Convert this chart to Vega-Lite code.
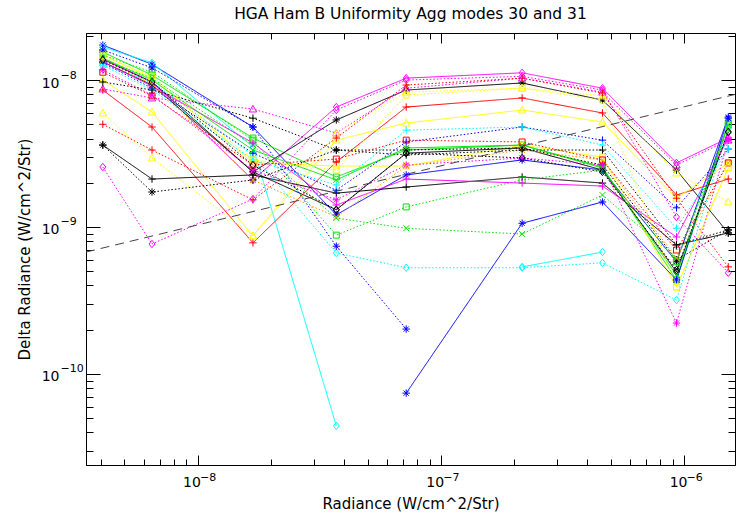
{
"$schema": "https://vega.github.io/schema/vega-lite/v6.json",
"width": 649, "height": 432,
"autosize": {"type": "none"},
"padding": {"left": 86, "top": 33, "right": 3, "bottom": 52},
"background": "white",
"config": {"view": {"stroke": "black", "strokeWidth": 1}, "font": "DejaVu Sans", "axis": {"grid": false, "domainColor": "black", "tickColor": "black", "labelColor": "black", "titleColor": "black", "labelFlush": false, "labelOverlap": false, "labelFont": "DejaVu Sans", "titleFont": "DejaVu Sans"}},
"title": {"text": "HGA Ham B Uniformity Agg modes 30 and 31", "fontSize": 15.5, "fontWeight": "normal", "font": "DejaVu Sans", "color": "black", "offset": 10},
"datasets": {
"ref": [{"x": 3.48e-9, "y": 6.75e-10}, {"x": 1.62e-6, "y": 7.98e-9}],
"pts": [
{"id":"A","c":"blue","m":"30","s":"ast","x":4.08e-9,"y":1.73e-8},{"id":"A","c":"blue","m":"30","s":"ast","x":6.5e-9,"y":1.28e-8},{"id":"A","c":"blue","m":"30","s":"ast","x":1.69e-8,"y":4.79e-9},{"id":"A","c":"blue","m":"30","s":"ast","x":3.72e-8,"y":1.21e-9},{"id":"A","c":"blue","m":"30","s":"ast","x":7.21e-8,"y":2.26e-9},{"id":"A","c":"blue","m":"30","s":"ast","x":2.16e-7,"y":2.86e-9},{"id":"A","c":"blue","m":"30","s":"ast","x":4.62e-7,"y":2.44e-9},{"id":"A","c":"blue","m":"30","s":"ast","x":9.31e-7,"y":5.8e-10},{"id":"A","c":"blue","m":"30","s":"ast","x":1.52e-6,"y":5.6e-9},
{"id":"B","c":"cyan","m":"30","s":"dia","x":4.08e-9,"y":1.68e-8},{"id":"B","c":"cyan","m":"30","s":"dia","x":6.5e-9,"y":1.31e-8},{"id":"B","c":"cyan","m":"30","s":"dia","x":1.69e-8,"y":3.5e-9},{"id":"B","c":"cyan","m":"30","s":"dia","x":3.72e-8,"y":4.43e-11},
{"id":"C","c":"green","m":"30","s":"sq","x":4.08e-9,"y":1.55e-8},{"id":"C","c":"green","m":"30","s":"sq","x":6.5e-9,"y":1.08e-8},{"id":"C","c":"green","m":"30","s":"sq","x":1.69e-8,"y":4.03e-9},{"id":"C","c":"green","m":"30","s":"sq","x":3.72e-8,"y":2.19e-9},{"id":"C","c":"green","m":"30","s":"sq","x":7.21e-8,"y":3.34e-9},{"id":"C","c":"green","m":"30","s":"sq","x":2.16e-7,"y":3.61e-9},{"id":"C","c":"green","m":"30","s":"sq","x":4.62e-7,"y":2.56e-9},{"id":"C","c":"green","m":"30","s":"sq","x":9.31e-7,"y":4.36e-10},{"id":"C","c":"green","m":"30","s":"sq","x":1.52e-6,"y":5.1e-9},
{"id":"D","c":"yellow","m":"30","s":"sq","x":4.08e-9,"y":1.48e-8},{"id":"D","c":"yellow","m":"30","s":"sq","x":6.5e-9,"y":1.03e-8},{"id":"D","c":"yellow","m":"30","s":"sq","x":1.69e-8,"y":2.73e-9},{"id":"D","c":"yellow","m":"30","s":"sq","x":3.72e-8,"y":2.6e-9},{"id":"D","c":"yellow","m":"30","s":"sq","x":7.21e-8,"y":2.6e-9},{"id":"D","c":"yellow","m":"30","s":"sq","x":2.16e-7,"y":3.61e-9},{"id":"D","c":"yellow","m":"30","s":"sq","x":4.62e-7,"y":2.99e-9},{"id":"D","c":"yellow","m":"30","s":"sq","x":9.31e-7,"y":3.9e-10},{"id":"D","c":"yellow","m":"30","s":"sq","x":1.52e-6,"y":2.52e-9},
{"id":"E","c":"black","m":"30","s":"dia","x":4.08e-9,"y":1.39e-8},{"id":"E","c":"black","m":"30","s":"dia","x":6.5e-9,"y":9.7e-9},{"id":"E","c":"black","m":"30","s":"dia","x":1.69e-8,"y":2.37e-9},{"id":"E","c":"black","m":"30","s":"dia","x":3.72e-8,"y":1.31e-9},{"id":"E","c":"black","m":"30","s":"dia","x":7.21e-8,"y":3.18e-9},{"id":"E","c":"black","m":"30","s":"dia","x":2.16e-7,"y":3.45e-9},{"id":"E","c":"black","m":"30","s":"dia","x":4.62e-7,"y":2.44e-9},{"id":"E","c":"black","m":"30","s":"dia","x":9.31e-7,"y":4.95e-10},{"id":"E","c":"black","m":"30","s":"dia","x":1.52e-6,"y":4.43e-9},
{"id":"F","c":"magenta","m":"30","s":"dia","x":4.08e-9,"y":1.39e-8},{"id":"F","c":"magenta","m":"30","s":"dia","x":6.5e-9,"y":9.7e-9},{"id":"F","c":"magenta","m":"30","s":"dia","x":1.69e-8,"y":2.09e-9},{"id":"F","c":"magenta","m":"30","s":"dia","x":3.72e-8,"y":6.55e-9},{"id":"F","c":"magenta","m":"30","s":"dia","x":7.21e-8,"y":1.03e-8},{"id":"F","c":"magenta","m":"30","s":"dia","x":2.16e-7,"y":1.12e-8},{"id":"F","c":"magenta","m":"30","s":"dia","x":4.62e-7,"y":8.8e-9},{"id":"F","c":"magenta","m":"30","s":"dia","x":9.31e-7,"y":2.73e-9},{"id":"F","c":"magenta","m":"30","s":"dia","x":1.52e-6,"y":4.03e-9},
{"id":"G","c":"black","m":"30","s":"ast","x":4.08e-9,"y":1.33e-8},{"id":"G","c":"black","m":"30","s":"ast","x":6.5e-9,"y":9.25e-9},{"id":"G","c":"black","m":"30","s":"ast","x":1.69e-8,"y":2.37e-9},{"id":"G","c":"black","m":"30","s":"ast","x":3.72e-8,"y":5.35e-9},{"id":"G","c":"black","m":"30","s":"ast","x":7.21e-8,"y":8.55e-9},{"id":"G","c":"black","m":"30","s":"ast","x":2.16e-7,"y":9.55e-9},{"id":"G","c":"black","m":"30","s":"ast","x":4.62e-7,"y":7.3e-9},{"id":"G","c":"black","m":"30","s":"ast","x":9.31e-7,"y":2.44e-9},{"id":"G","c":"black","m":"30","s":"ast","x":1.52e-6,"y":9.1e-10},
{"id":"H","c":"red","m":"30","s":"plus","x":4.08e-9,"y":8.55e-9},{"id":"H","c":"red","m":"30","s":"plus","x":6.5e-9,"y":4.79e-9},{"id":"H","c":"red","m":"30","s":"plus","x":1.69e-8,"y":7.8e-10},{"id":"H","c":"red","m":"30","s":"plus","x":3.72e-8,"y":2.77e-9},{"id":"H","c":"red","m":"30","s":"plus","x":7.21e-8,"y":6.55e-9},{"id":"H","c":"red","m":"30","s":"plus","x":2.16e-7,"y":7.55e-9},{"id":"H","c":"red","m":"30","s":"plus","x":4.62e-7,"y":5.97e-9},{"id":"H","c":"red","m":"30","s":"plus","x":9.31e-7,"y":1.65e-9},{"id":"H","c":"red","m":"30","s":"plus","x":1.52e-6,"y":2.12e-9},
{"id":"I","c":"yellow","m":"30","s":"tri","x":4.08e-9,"y":1.0e-8},{"id":"I","c":"yellow","m":"30","s":"tri","x":6.5e-9,"y":6.06e-9},{"id":"I","c":"yellow","m":"30","s":"tri","x":1.69e-8,"y":8.7e-10},{"id":"I","c":"yellow","m":"30","s":"tri","x":3.72e-8,"y":3.9e-9},{"id":"I","c":"yellow","m":"30","s":"tri","x":7.21e-8,"y":5.1e-9},{"id":"I","c":"yellow","m":"30","s":"tri","x":2.16e-7,"y":6.25e-9},{"id":"I","c":"yellow","m":"30","s":"tri","x":4.62e-7,"y":5.18e-9},{"id":"I","c":"yellow","m":"30","s":"tri","x":9.31e-7,"y":1.57e-9},{"id":"I","c":"yellow","m":"30","s":"tri","x":1.52e-6,"y":2.73e-9},
{"id":"J","c":"magenta","m":"31","s":"tri","x":4.08e-9,"y":8.7e-9},{"id":"J","c":"magenta","m":"31","s":"tri","x":6.5e-9,"y":7.55e-9},{"id":"J","c":"magenta","m":"31","s":"tri","x":1.69e-8,"y":6.35e-9},{"id":"J","c":"magenta","m":"31","s":"tri","x":3.72e-8,"y":4.36e-9},{"id":"J","c":"magenta","m":"31","s":"tri","x":7.21e-8,"y":8.8e-9},{"id":"J","c":"magenta","m":"31","s":"tri","x":2.16e-7,"y":1.03e-8},{"id":"J","c":"magenta","m":"31","s":"tri","x":4.62e-7,"y":8.28e-9},{"id":"J","c":"magenta","m":"31","s":"tri","x":9.31e-7,"y":2.64e-9},{"id":"J","c":"magenta","m":"31","s":"tri","x":1.52e-6,"y":3.9e-9},
{"id":"K","c":"yellow","m":"31","s":"tri","x":4.08e-9,"y":5.97e-9},{"id":"K","c":"yellow","m":"31","s":"tri","x":6.5e-9,"y":2.95e-9},{"id":"K","c":"yellow","m":"31","s":"tri","x":1.69e-8,"y":8.7e-10},{"id":"K","c":"yellow","m":"31","s":"tri","x":3.72e-8,"y":4.36e-9},{"id":"K","c":"yellow","m":"31","s":"tri","x":7.21e-8,"y":8.28e-9},{"id":"K","c":"yellow","m":"31","s":"tri","x":2.16e-7,"y":8.8e-9},{"id":"K","c":"yellow","m":"31","s":"tri","x":4.62e-7,"y":7.8e-9},{"id":"K","c":"yellow","m":"31","s":"tri","x":9.31e-7,"y":2.33e-9},{"id":"K","c":"yellow","m":"31","s":"tri","x":1.52e-6,"y":1.48e-9},
{"id":"L","c":"red","m":"31","s":"plus","x":4.08e-9,"y":5.0e-9},{"id":"L","c":"red","m":"31","s":"plus","x":6.5e-9,"y":3.34e-9},{"id":"L","c":"red","m":"31","s":"plus","x":1.69e-8,"y":1.53e-9},{"id":"L","c":"red","m":"31","s":"plus","x":3.72e-8,"y":4.03e-9},{"id":"L","c":"red","m":"31","s":"plus","x":7.21e-8,"y":9.25e-9},{"id":"L","c":"red","m":"31","s":"plus","x":2.16e-7,"y":1.03e-8},{"id":"L","c":"red","m":"31","s":"plus","x":4.62e-7,"y":8.15e-9},{"id":"L","c":"red","m":"31","s":"plus","x":9.31e-7,"y":1.57e-9},{"id":"L","c":"red","m":"31","s":"plus","x":1.52e-6,"y":5.35e-10},
{"id":"M","c":"black","m":"30","s":"plus","x":4.08e-9,"y":3.61e-9},{"id":"M","c":"black","m":"30","s":"plus","x":6.5e-9,"y":2.12e-9},{"id":"M","c":"black","m":"30","s":"plus","x":1.69e-8,"y":2.26e-9},{"id":"M","c":"black","m":"30","s":"plus","x":3.72e-8,"y":1.7e-9},{"id":"M","c":"black","m":"30","s":"plus","x":7.21e-8,"y":1.87e-9},{"id":"M","c":"black","m":"30","s":"plus","x":2.16e-7,"y":2.19e-9},{"id":"M","c":"black","m":"30","s":"plus","x":4.62e-7,"y":1.99e-9},{"id":"M","c":"black","m":"30","s":"plus","x":9.31e-7,"y":7.55e-10},{"id":"M","c":"black","m":"30","s":"plus","x":1.52e-6,"y":9.1e-10},
{"id":"N","c":"black","m":"31","s":"ast","x":4.08e-9,"y":3.61e-9},{"id":"N","c":"black","m":"31","s":"ast","x":6.5e-9,"y":1.73e-9},{"id":"N","c":"black","m":"31","s":"ast","x":1.69e-8,"y":2.09e-9},{"id":"N","c":"black","m":"31","s":"ast","x":3.72e-8,"y":3.34e-9},{"id":"N","c":"black","m":"31","s":"ast","x":7.21e-8,"y":3.34e-9},{"id":"N","c":"black","m":"31","s":"ast","x":2.16e-7,"y":3.45e-9},{"id":"N","c":"black","m":"31","s":"ast","x":4.62e-7,"y":2.64e-9},{"id":"N","c":"black","m":"31","s":"ast","x":9.31e-7,"y":5.97e-10},{"id":"N","c":"black","m":"31","s":"ast","x":1.52e-6,"y":9.55e-10},
{"id":"O","c":"magenta","m":"31","s":"dia","x":4.08e-9,"y":2.56e-9},{"id":"O","c":"magenta","m":"31","s":"dia","x":6.5e-9,"y":7.66e-10},{"id":"O","c":"magenta","m":"31","s":"dia","x":1.69e-8,"y":1.55e-9},{"id":"O","c":"magenta","m":"31","s":"dia","x":3.72e-8,"y":6.25e-9},{"id":"O","c":"magenta","m":"31","s":"dia","x":7.21e-8,"y":1.0e-8},{"id":"O","c":"magenta","m":"31","s":"dia","x":2.16e-7,"y":1.06e-8},{"id":"O","c":"magenta","m":"31","s":"dia","x":4.62e-7,"y":8.55e-9},{"id":"O","c":"magenta","m":"31","s":"dia","x":9.31e-7,"y":1.17e-9},{"id":"O","c":"magenta","m":"31","s":"dia","x":1.52e-6,"y":4.88e-10},
{"id":"P","c":"green","m":"31","s":"sq","x":4.08e-9,"y":1.48e-8},{"id":"P","c":"green","m":"31","s":"sq","x":6.5e-9,"y":1.13e-8},{"id":"P","c":"green","m":"31","s":"sq","x":1.69e-8,"y":3.9e-9},{"id":"P","c":"green","m":"31","s":"sq","x":3.72e-8,"y":8.8e-10},{"id":"P","c":"green","m":"31","s":"sq","x":7.21e-8,"y":1.37e-9},{"id":"P","c":"green","m":"31","s":"sq","x":2.16e-7,"y":2.09e-9},{"id":"P","c":"green","m":"31","s":"sq","x":4.62e-7,"y":2.44e-9},{"id":"P","c":"green","m":"31","s":"sq","x":9.31e-7,"y":5.8e-10},{"id":"P","c":"green","m":"31","s":"sq","x":1.52e-6,"y":4.95e-9},
{"id":"Q","c":"green","m":"31","s":"x","x":4.08e-9,"y":1.37e-8},{"id":"Q","c":"green","m":"31","s":"x","x":6.5e-9,"y":1.03e-8},{"id":"Q","c":"green","m":"31","s":"x","x":1.69e-8,"y":3.61e-9},{"id":"Q","c":"green","m":"31","s":"x","x":3.72e-8,"y":1.15e-9},{"id":"Q","c":"green","m":"31","s":"x","x":7.21e-8,"y":9.8e-10},{"id":"Q","c":"green","m":"31","s":"x","x":2.16e-7,"y":8.96e-10},{"id":"Q","c":"green","m":"31","s":"x","x":4.62e-7,"y":1.65e-9},{"id":"Q","c":"green","m":"31","s":"x","x":9.31e-7,"y":6.15e-10},{"id":"Q","c":"green","m":"31","s":"x","x":1.52e-6,"y":4.56e-9},
{"id":"R","c":"cyan","m":"31","s":"dia","x":4.08e-9,"y":1.26e-8},{"id":"R","c":"cyan","m":"31","s":"dia","x":6.5e-9,"y":9.7e-9},{"id":"R","c":"cyan","m":"31","s":"dia","x":1.69e-8,"y":3.09e-9},{"id":"R","c":"cyan","m":"31","s":"dia","x":3.72e-8,"y":6.65e-10},{"id":"R","c":"cyan","m":"31","s":"dia","x":7.21e-8,"y":5.28e-10},{"id":"R","c":"cyan","m":"31","s":"dia","x":2.16e-7,"y":5.28e-10},{"id":"R","c":"cyan","m":"31","s":"dia","x":4.62e-7,"y":5.7e-10},{"id":"R","c":"cyan","m":"31","s":"dia","x":9.31e-7,"y":3.18e-10},{"id":"R","c":"cyan","m":"31","s":"dia","x":1.52e-6,"y":4.7e-9},
{"id":"S","c":"cyan","m":"30","s":"dia","x":2.16e-7,"y":5.35e-10},{"id":"S","c":"cyan","m":"30","s":"dia","x":4.62e-7,"y":6.75e-10},
{"id":"T","c":"blue","m":"30","s":"ast","x":7.21e-8,"y":7.4e-11},{"id":"T","c":"blue","m":"30","s":"ast","x":2.16e-7,"y":1.06e-9},{"id":"T","c":"blue","m":"30","s":"ast","x":4.62e-7,"y":1.48e-9},{"id":"T","c":"blue","m":"30","s":"ast","x":9.31e-7,"y":4.36e-10},{"id":"T","c":"blue","m":"30","s":"ast","x":1.52e-6,"y":5.5e-9},
{"id":"U","c":"blue","m":"31","s":"ast","x":4.08e-9,"y":1.6e-8},{"id":"U","c":"blue","m":"31","s":"ast","x":6.5e-9,"y":1.21e-8},{"id":"U","c":"blue","m":"31","s":"ast","x":1.69e-8,"y":4.79e-9},{"id":"U","c":"blue","m":"31","s":"ast","x":3.72e-8,"y":7.4e-10},{"id":"U","c":"blue","m":"31","s":"ast","x":7.21e-8,"y":2.02e-10},
{"id":"V","c":"magenta","m":"30","s":"plus","x":4.08e-9,"y":1.33e-8},{"id":"V","c":"magenta","m":"30","s":"plus","x":6.5e-9,"y":9.1e-9},{"id":"V","c":"magenta","m":"30","s":"plus","x":1.69e-8,"y":3.73e-9},{"id":"V","c":"magenta","m":"30","s":"plus","x":3.72e-8,"y":1.41e-9},{"id":"V","c":"magenta","m":"30","s":"plus","x":7.21e-8,"y":2.12e-9},{"id":"V","c":"magenta","m":"30","s":"plus","x":2.16e-7,"y":1.99e-9},{"id":"V","c":"magenta","m":"30","s":"plus","x":4.62e-7,"y":1.9e-9},{"id":"V","c":"magenta","m":"30","s":"plus","x":9.31e-7,"y":8.55e-10},{"id":"V","c":"magenta","m":"30","s":"plus","x":1.52e-6,"y":4.03e-9},
{"id":"W","c":"blue","m":"31","s":"plus","x":4.08e-9,"y":1.31e-8},{"id":"W","c":"blue","m":"31","s":"plus","x":6.5e-9,"y":8.8e-9},{"id":"W","c":"blue","m":"31","s":"plus","x":1.69e-8,"y":3.18e-9},{"id":"W","c":"blue","m":"31","s":"plus","x":3.72e-8,"y":1.78e-9},{"id":"W","c":"blue","m":"31","s":"plus","x":7.21e-8,"y":3.79e-9},{"id":"W","c":"blue","m":"31","s":"plus","x":2.16e-7,"y":4.79e-9},{"id":"W","c":"blue","m":"31","s":"plus","x":4.62e-7,"y":3.9e-9},{"id":"W","c":"blue","m":"31","s":"plus","x":9.31e-7,"y":1.35e-9},{"id":"W","c":"blue","m":"31","s":"plus","x":1.52e-6,"y":3.39e-9},
{"id":"X","c":"cyan","m":"31","s":"plus","x":4.08e-9,"y":1.26e-8},{"id":"X","c":"cyan","m":"31","s":"plus","x":6.5e-9,"y":8.55e-9},{"id":"X","c":"cyan","m":"31","s":"plus","x":1.69e-8,"y":2.86e-9},{"id":"X","c":"cyan","m":"31","s":"plus","x":3.72e-8,"y":1.93e-9},{"id":"X","c":"cyan","m":"31","s":"plus","x":7.21e-8,"y":4.56e-9},{"id":"X","c":"cyan","m":"31","s":"plus","x":2.16e-7,"y":4.79e-9},{"id":"X","c":"cyan","m":"31","s":"plus","x":4.62e-7,"y":3.61e-9},{"id":"X","c":"cyan","m":"31","s":"plus","x":9.31e-7,"y":9.8e-10},{"id":"X","c":"cyan","m":"31","s":"plus","x":1.52e-6,"y":3.39e-9},
{"id":"Y","c":"magenta","m":"31","s":"ast","x":4.08e-9,"y":1.17e-8},{"id":"Y","c":"magenta","m":"31","s":"ast","x":6.5e-9,"y":7.9e-9},{"id":"Y","c":"magenta","m":"31","s":"ast","x":1.69e-8,"y":2.44e-9},{"id":"Y","c":"magenta","m":"31","s":"ast","x":3.72e-8,"y":1.53e-9},{"id":"Y","c":"magenta","m":"31","s":"ast","x":7.21e-8,"y":2.64e-9},{"id":"Y","c":"magenta","m":"31","s":"ast","x":2.16e-7,"y":2.95e-9},{"id":"Y","c":"magenta","m":"31","s":"ast","x":4.62e-7,"y":2.64e-9},{"id":"Y","c":"magenta","m":"31","s":"ast","x":9.31e-7,"y":2.22e-10},{"id":"Y","c":"magenta","m":"31","s":"ast","x":1.52e-6,"y":3.9e-9},
{"id":"Z","c":"orange","m":"31","s":"x","x":4.08e-9,"y":1.37e-8},{"id":"Z","c":"orange","m":"31","s":"x","x":6.5e-9,"y":9.4e-9},{"id":"Z","c":"orange","m":"31","s":"x","x":1.69e-8,"y":2.09e-9},{"id":"Z","c":"orange","m":"31","s":"x","x":3.72e-8,"y":1.17e-9},{"id":"Z","c":"orange","m":"31","s":"x","x":7.21e-8,"y":2.6e-9},{"id":"Z","c":"orange","m":"31","s":"x","x":2.16e-7,"y":3.34e-9},{"id":"Z","c":"orange","m":"31","s":"x","x":4.62e-7,"y":2.86e-9},{"id":"Z","c":"orange","m":"31","s":"x","x":9.31e-7,"y":6.15e-10},{"id":"Z","c":"orange","m":"31","s":"x","x":1.52e-6,"y":2.73e-9},
{"id":"AA","c":"red","m":"31","s":"sq","x":4.08e-9,"y":1.13e-8},{"id":"AA","c":"red","m":"31","s":"sq","x":6.5e-9,"y":7.8e-9},{"id":"AA","c":"red","m":"31","s":"sq","x":1.69e-8,"y":2.64e-9},{"id":"AA","c":"red","m":"31","s":"sq","x":3.72e-8,"y":2.9e-9},{"id":"AA","c":"red","m":"31","s":"sq","x":7.21e-8,"y":3.9e-9},{"id":"AA","c":"red","m":"31","s":"sq","x":2.16e-7,"y":3.79e-9},{"id":"AA","c":"red","m":"31","s":"sq","x":4.62e-7,"y":2.86e-9},{"id":"AA","c":"red","m":"31","s":"sq","x":9.31e-7,"y":6.97e-10},{"id":"AA","c":"red","m":"31","s":"sq","x":1.52e-6,"y":2.73e-9},
{"id":"AB","c":"black","m":"31","s":"plus","x":4.08e-9,"y":9.7e-9},{"id":"AB","c":"black","m":"31","s":"plus","x":6.5e-9,"y":8.55e-9},{"id":"AB","c":"black","m":"31","s":"plus","x":1.69e-8,"y":5.5e-9},{"id":"AB","c":"black","m":"31","s":"plus","x":3.72e-8,"y":3.34e-9},{"id":"AB","c":"black","m":"31","s":"plus","x":7.21e-8,"y":3.09e-9},{"id":"AB","c":"black","m":"31","s":"plus","x":2.16e-7,"y":3.34e-9},{"id":"AB","c":"black","m":"31","s":"plus","x":4.62e-7,"y":3.34e-9},{"id":"AB","c":"black","m":"31","s":"plus","x":9.31e-7,"y":7.55e-10},{"id":"AB","c":"black","m":"31","s":"plus","x":1.52e-6,"y":9.55e-10},
{"id":"AC","c":"green","m":"30","s":"x","x":4.08e-9,"y":1.41e-8},{"id":"AC","c":"green","m":"30","s":"x","x":6.5e-9,"y":1.0e-8},{"id":"AC","c":"green","m":"30","s":"x","x":1.69e-8,"y":3.34e-9},{"id":"AC","c":"green","m":"30","s":"x","x":3.72e-8,"y":2.09e-9},{"id":"AC","c":"green","m":"30","s":"x","x":7.21e-8,"y":3.45e-9},{"id":"AC","c":"green","m":"30","s":"x","x":2.16e-7,"y":3.61e-9},{"id":"AC","c":"green","m":"30","s":"x","x":4.62e-7,"y":2.52e-9},{"id":"AC","c":"green","m":"30","s":"x","x":9.31e-7,"y":4.7e-10},{"id":"AC","c":"green","m":"30","s":"x","x":1.52e-6,"y":4.95e-9},
{"id":"AD","c":"yellow","m":"31","s":"sq","x":4.08e-9,"y":1.46e-8},{"id":"AD","c":"yellow","m":"31","s":"sq","x":6.5e-9,"y":1.06e-8},{"id":"AD","c":"yellow","m":"31","s":"sq","x":1.69e-8,"y":2.86e-9},{"id":"AD","c":"yellow","m":"31","s":"sq","x":3.72e-8,"y":2.44e-9},{"id":"AD","c":"yellow","m":"31","s":"sq","x":7.21e-8,"y":7.9e-9},{"id":"AD","c":"yellow","m":"31","s":"sq","x":2.16e-7,"y":8.8e-9},{"id":"AD","c":"yellow","m":"31","s":"sq","x":4.62e-7,"y":7.3e-9},{"id":"AD","c":"yellow","m":"31","s":"sq","x":9.31e-7,"y":3.9e-10},{"id":"AD","c":"yellow","m":"31","s":"sq","x":1.52e-6,"y":2.52e-9},
{"id":"AE","c":"black","m":"31","s":"dia","x":4.08e-9,"y":1.37e-8},{"id":"AE","c":"black","m":"31","s":"dia","x":6.5e-9,"y":9.7e-9},{"id":"AE","c":"black","m":"31","s":"dia","x":1.69e-8,"y":2.64e-9},{"id":"AE","c":"black","m":"31","s":"dia","x":3.72e-8,"y":1.31e-9},{"id":"AE","c":"black","m":"31","s":"dia","x":7.21e-8,"y":3.18e-9},{"id":"AE","c":"black","m":"31","s":"dia","x":2.16e-7,"y":2.95e-9},{"id":"AE","c":"black","m":"31","s":"dia","x":4.62e-7,"y":2.37e-9},{"id":"AE","c":"black","m":"31","s":"dia","x":9.31e-7,"y":5.1e-10},{"id":"AE","c":"black","m":"31","s":"dia","x":1.52e-6,"y":4.43e-9}
]
},
"resolve": {"axis": {"x": "independent", "y": "independent"}},
"layer": [
{
"data": {"name": "pts"},
"mark": {"type": "line", "strokeWidth": 1, "clip": true},
"encoding": {
"x": {"field": "x", "type": "quantitative", "scale": {"type": "log", "domain": [3.48e-9, 1.62e-6], "nice": false},
 "axis": {"orient": "bottom", "values": [1e-8, 1e-7, 1e-6], "ticks": false, "labelPadding": 10, "labelOffset": -6, "labelFontSize": 14,
 "labelExpr": "'10'",
 "title": "Radiance (W/cm^2/Str)", "titleFontSize": 15, "titleFontWeight": "normal", "titlePadding": 7}},
"y": {"field": "y", "type": "quantitative", "scale": {"type": "log", "domain": [2.4e-11, 2.09e-8], "nice": false},
 "axis": {"orient": "left", "values": [1e-10, 1e-9, 1e-8], "ticks": false, "labelPadding": 27, "labelOffset": 3, "labelFontSize": 14,
 "labelExpr": "'10'",
 "title": "Delta Radiance (W/cm^2/Str)", "titleFontSize": 15, "titleFontWeight": "normal", "titlePadding": 9}},
"color": {"field": "c", "type": "nominal", "legend": null, "scale": {"domain": ["black", "red", "green", "blue", "cyan", "magenta", "yellow", "orange"], "range": ["#000000", "#ff0000", "#00e600", "#0000ff", "#00ffff", "#ff00ff", "#ffff00", "#ff9900"]}},
"strokeDash": {"field": "m", "type": "nominal", "legend": null, "scale": {"domain": ["30", "31"], "range": [[1, 0], [1.5, 2]]}},
"detail": {"field": "id"}
}
},
{
"data": {"name": "pts"},
"mark": {"type": "point", "filled": false, "strokeWidth": 1, "size": 55, "clip": true, "opacity": 1},
"encoding": {
"x": {"field": "x", "type": "quantitative", "scale": {"type": "log", "domain": [3.48e-9, 1.62e-6], "nice": false},
 "axis": {"orient": "bottom", "values": [1e-8, 1e-7, 1e-6], "ticks": false, "domain": false, "labelPadding": 6, "labelOffset": 2, "labelAlign": "left", "labelFontSize": 11,
 "labelExpr": "datum.value == 1e-8 ? '−8' : datum.value == 1e-7 ? '−7' : '−6'", "title": null}},
"y": {"field": "y", "type": "quantitative", "scale": {"type": "log", "domain": [2.4e-11, 2.09e-8], "nice": false},
 "axis": {"orient": "left", "values": [1e-10, 1e-9, 1e-8], "ticks": false, "domain": false, "labelPadding": 26, "labelAlign": "left", "labelOffset": -5, "labelFontSize": 11,
 "labelExpr": "datum.value == 1e-8 ? '−8' : datum.value == 1e-9 ? '−9' : '−10'", "title": null}},
"color": {"field": "c", "type": "nominal", "legend": null, "scale": {"domain": ["black", "red", "green", "blue", "cyan", "magenta", "yellow", "orange"], "range": ["#000000", "#ff0000", "#00e600", "#0000ff", "#00ffff", "#ff00ff", "#ffff00", "#ff9900"]}},
"shape": {"field": "s", "type": "nominal", "legend": null, "scale": {"domain": ["plus", "ast", "dia", "tri", "sq", "x"], "range": ["M-1,0L1,0M0,-1L0,1", "M-1,0L1,0M0,-1L0,1M-0.7,-0.7L0.7,0.7M-0.7,0.7L0.7,-0.7", "M0,-1L0.8,0L0,1L-0.8,0Z", "M0,-1L1,0.8L-1,0.8Z", "M-0.8,-0.8L0.8,-0.8L0.8,0.8L-0.8,0.8Z", "M-0.8,-0.8L0.8,0.8M-0.8,0.8L0.8,-0.8"]}}
}
},
{
"data": {"name": "ref"},
"mark": {"type": "line", "color": "#444444", "strokeWidth": 1, "strokeDash": [9, 6], "clip": true},
"encoding": {
"x": {"field": "x", "type": "quantitative", "scale": {"type": "log", "domain": [3.48e-9, 1.62e-6], "nice": false},
 "axis": {"orient": "top", "offset": -432, "values": [1e-8, 1e-7, 1e-6], "tickSize": 10, "labels": false, "domain": false, "title": null}},
"y": {"field": "y", "type": "quantitative", "scale": {"type": "log", "domain": [2.4e-11, 2.09e-8], "nice": false},
 "axis": {"orient": "right", "offset": -649, "values": [1e-10, 1e-9, 1e-8], "tickSize": 14, "labels": false, "domain": false, "title": null}}
}
},
{
"data": {"name": "ref"},
"mark": {"type": "line", "opacity": 0, "clip": true},
"encoding": {
"x": {"field": "x", "type": "quantitative", "scale": {"type": "log", "domain": [3.48e-9, 1.62e-6], "nice": false},
 "axis": {"orient": "top", "offset": -432, "values": [4e-9, 5e-9, 6e-9, 7e-9, 8e-9, 9e-9, 2e-8, 3e-8, 4e-8, 5e-8, 6e-8, 7e-8, 8e-8, 9e-8, 2e-7, 3e-7, 4e-7, 5e-7, 6e-7, 7e-7, 8e-7, 9e-7], "tickSize": 6, "labels": false, "domain": false, "title": null}},
"y": {"field": "y", "type": "quantitative", "scale": {"type": "log", "domain": [2.4e-11, 2.09e-8], "nice": false},
 "axis": {"orient": "right", "offset": -649, "values": [3e-11, 4e-11, 5e-11, 6e-11, 7e-11, 8e-11, 9e-11, 2e-10, 3e-10, 4e-10, 5e-10, 6e-10, 7e-10, 8e-10, 9e-10, 2e-9, 3e-9, 4e-9, 5e-9, 6e-9, 7e-9, 8e-9, 9e-9, 2e-8], "tickSize": 7, "labels": false, "domain": false, "title": null}}
}
},
{
"data": {"name": "ref"},
"mark": {"type": "line", "opacity": 0, "clip": true},
"encoding": {
"x": {"field": "x", "type": "quantitative", "scale": {"type": "log", "domain": [3.48e-9, 1.62e-6], "nice": false},
 "axis": {"orient": "bottom", "offset": -432, "values": [1e-8, 1e-7, 1e-6], "tickSize": 10, "labels": false, "domain": false, "title": null}},
"y": {"field": "y", "type": "quantitative", "scale": {"type": "log", "domain": [2.4e-11, 2.09e-8], "nice": false},
 "axis": {"orient": "left", "offset": -649, "values": [1e-10, 1e-9, 1e-8], "tickSize": 14, "labels": false, "domain": false, "title": null}}
}
},
{
"data": {"name": "ref"},
"mark": {"type": "line", "opacity": 0, "clip": true},
"encoding": {
"x": {"field": "x", "type": "quantitative", "scale": {"type": "log", "domain": [3.48e-9, 1.62e-6], "nice": false},
 "axis": {"orient": "bottom", "offset": -432, "values": [4e-9, 5e-9, 6e-9, 7e-9, 8e-9, 9e-9, 2e-8, 3e-8, 4e-8, 5e-8, 6e-8, 7e-8, 8e-8, 9e-8, 2e-7, 3e-7, 4e-7, 5e-7, 6e-7, 7e-7, 8e-7, 9e-7], "tickSize": 6, "labels": false, "domain": false, "title": null}},
"y": {"field": "y", "type": "quantitative", "scale": {"type": "log", "domain": [2.4e-11, 2.09e-8], "nice": false},
 "axis": {"orient": "left", "offset": -649, "values": [3e-11, 4e-11, 5e-11, 6e-11, 7e-11, 8e-11, 9e-11, 2e-10, 3e-10, 4e-10, 5e-10, 6e-10, 7e-10, 8e-10, 9e-10, 2e-9, 3e-9, 4e-9, 5e-9, 6e-9, 7e-9, 8e-9, 9e-9, 2e-8], "tickSize": 7, "labels": false, "domain": false, "title": null}}
}
}
]
}
